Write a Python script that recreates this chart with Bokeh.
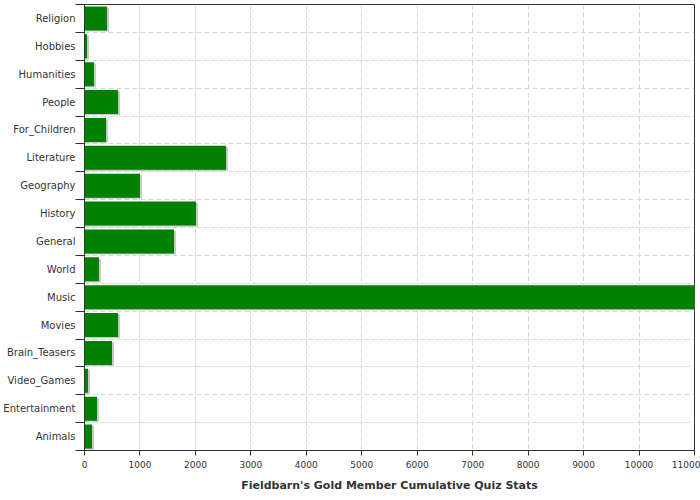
from bokeh.plotting import figure
from bokeh.models import Range1d, FixedTicker, ColumnDataSource
from bokeh.embed import file_html
from bokeh.resources import INLINE

categories = ["Religion", "Hobbies", "Humanities", "People", "For_Children", "Literature",
              "Geography", "History", "General", "World", "Music", "Movies",
              "Brain_Teasers", "Video_Games", "Entertainment", "Animals"]
values = [405, 45, 170, 605, 388, 2552, 1000, 2010, 1614, 261, 11000, 605, 496, 63, 225, 135]
x_ticks = list(range(0, 11001, 1000))
title_text = "Fieldbarn's Gold Member Cumulative Quiz Stats"

n = len(categories)
idx = list(range(n))
x_max = 11000

p = figure(width=700, height=500, output_backend="svg", toolbar_location=None,
           x_range=Range1d(0, x_max), y_range=Range1d(n - 0.5, -0.5),
           min_border_left=84, min_border_right=6, min_border_top=4, min_border_bottom=50)

px_x = x_max / 610.0
px_y = n / 446.0
src = ColumnDataSource(dict(y=idx, v=values,
                            ys=[i + 1.2 * px_y for i in idx],
                            vs=[v + 2 * px_x for v in values]))
p.hbar(y="ys", left=0, right="vs", height=0.86, source=src, fill_color="#c8c8c8", line_color=None)
p.hbar(y="y", left=0, right="v", height=0.86, source=src, fill_color="#008000", line_color=None)

boundaries = [i - 0.5 for i in range(n + 1)]
p.yaxis.ticker = FixedTicker(ticks=idx, minor_ticks=boundaries)
p.yaxis.major_label_overrides = {i: c for i, c in enumerate(categories)}
p.yaxis.major_tick_out = 0
p.yaxis.major_tick_in = 0
p.yaxis.minor_tick_out = 9
p.yaxis.minor_tick_in = 0
p.yaxis.minor_tick_line_color = "#333333"
p.yaxis.major_label_standoff = 0
p.yaxis.major_label_text_font = "DejaVu Sans"
p.yaxis.major_label_text_font_size = "10px"
p.yaxis.major_label_text_color = "#333333"

p.xaxis.ticker = FixedTicker(ticks=x_ticks)
p.xaxis.minor_tick_line_color = None
p.xaxis.major_tick_out = 5
p.xaxis.major_tick_in = 0
p.xaxis.major_label_text_font = "DejaVu Sans"
p.xaxis.major_label_text_font_size = "9px"
p.xaxis.major_label_text_color = "#333333"
p.xaxis.major_label_standoff = 5
p.xaxis.axis_label = title_text
p.xaxis.axis_label_text_font = "DejaVu Sans"
p.xaxis.axis_label_text_font_size = "11px"
p.xaxis.axis_label_text_font_style = "bold"
p.xaxis.axis_label_text_color = "#333333"
p.xaxis.axis_label_standoff = 8

for ax in (p.xaxis, p.yaxis):
    ax.axis_line_color = "#333333"
    ax.major_tick_line_color = "#333333"

p.ygrid.ticker = FixedTicker(ticks=boundaries)
for g in (p.xgrid, p.ygrid):
    g.grid_line_color = "#d5d9dc"
    g.grid_line_dash = "5 3"
    g.grid_line_width = 1

p.outline_line_color = "#333333"
p.outline_line_alpha = 1
p.background_fill_color = "white"
p.border_fill_color = "white"

open("out.html", "w").write(file_html(p, INLINE))
